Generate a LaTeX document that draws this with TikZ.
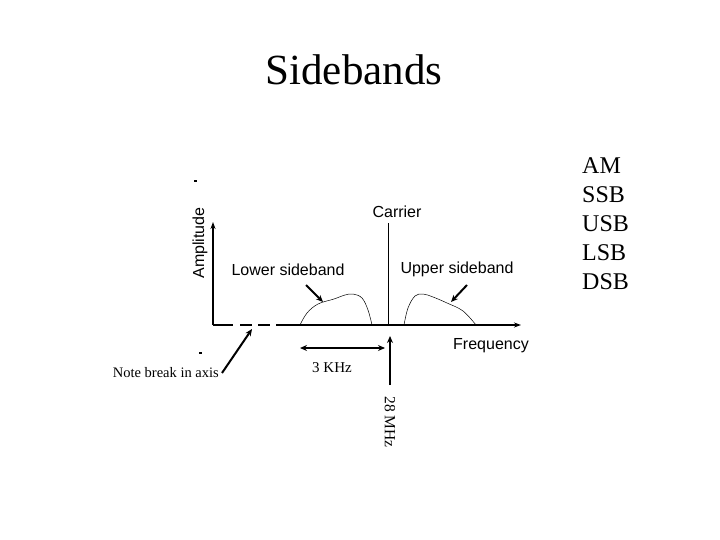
\documentclass[tikz,border=0pt]{standalone}
\usepackage{fontspec}
\setmainfont{Liberation Serif}
\setsansfont{Liberation Sans}
\usetikzlibrary{arrows.meta,positioning}
\definecolor{sbink}{RGB}{0,0,0}
\tikzset{
  sblabel/.style={font=\sffamily\fontsize{16}{19}\selectfont,inner sep=0pt},
  sbnote/.style={font=\fontsize{14.5}{17}\selectfont,inner sep=0pt},
  sbaxis/.style={line width=2pt,draw=sbink},
  sbpoint/.style={-{Stealth[length=7pt,width=6pt]},line width=2pt},
  sbcurve/.style={line width=.5pt}
}
\newcommand{\sbmode}[2]{%
  \node[anchor=west,font=\fontsize{24}{28}\selectfont,inner sep=0pt] (mode#1) at (582,#2) {#1};
}
\begin{document}
\begin{tikzpicture}[x=1pt,y=-1pt]
  \useasboundingbox (0,0) rectangle (720,540);
  % title and list of modes
  \node[font=\fontsize{43}{50}\selectfont] (title) at (354,70) {Sidebands};
  \foreach \mode/\yy in {AM/166,SSB/195,USB/224,LSB/253,DSB/282}
    \sbmode{\mode}{\yy}
  % axes, with the break near the origin
  \coordinate (origin) at (213,325);
  \coordinate (ytop) at (213,222);
  \coordinate (xend) at (521,325);
  \draw[sbaxis,-{Stealth[length=7pt,width=5pt]}] (origin) -- (ytop);
  \draw[sbaxis] (origin) -- (233,325);
  \draw[sbaxis] (240,325) -- (252,325);
  \draw[sbaxis] (258,325) -- (270,325);
  \draw[sbaxis,-{Stealth[length=7pt,width=5pt]}] (276,325) -- (xend);
  \draw[line width=1.2pt] (194,181) -- (197,181);
  \draw[line width=1.2pt] (199,353) -- (202,353);
  % carrier
  \coordinate (cbase) at (388,325);
  \coordinate (ctop) at (388,223);
  \draw[line width=.7pt] (cbase) -- (ctop);
  \node[sblabel] (carrier) at (397,212) {Carrier};
  \node[sblabel,rotate=90] (amp) at (200,243) {Amplitude};
  \node[sblabel] (freq) at (491,346) {Frequency};
  % sidebands
  \draw[sbcurve] plot[smooth,tension=.6] coordinates {(300,325) (307,313) (318,304) (334,299) (345,295) (353,294) (362,298) (368,310) (372,325)};
  \draw[sbcurve] plot[smooth,tension=.6] coordinates {(404,325) (408,308) (415,296) (423,294) (433,297) (447,303) (463,311) (476,325)};
  \node[sblabel] (lsb) at (288,270) {Lower sideband};
  \node[sblabel] (usb) at (457,269) {Upper sideband};
  \coordinate (lsbtail) at (306,285);
  \coordinate (lsbhead) at (323,302);
  \coordinate (usbtail) at (467,285);
  \coordinate (usbhead) at (451,302);
  \draw[sbpoint] (lsbtail) -- (lsbhead);
  \draw[sbpoint] (usbtail) -- (usbhead);
  % bandwidth and frequency marks
  \coordinate (bwleft) at (300,348);
  \coordinate (bwright) at (385,348);
  \draw[line width=2pt,{Stealth[length=7pt,width=6pt]}-{Stealth[length=7pt,width=6pt]}] (bwleft) -- (bwright);
  \node[sbnote,font=\fontsize{15}{18}\selectfont] (bw) at (332,368) {3 KHz};
  \coordinate (cfbase) at (390,385);
  \coordinate (cfhead) at (390,336);
  \draw[sbpoint] (cfbase) -- (cfhead);
  \node[sbnote,font=\fontsize{15.5}{18}\selectfont,rotate=-90] (cf) at (390,422) {28 MHz};
  % break note
  \node[sbnote,anchor=east] (note) at (219,373) {Note break in axis};
  \coordinate (notehead) at (252,329);
  \draw[sbpoint] (note.east) ++(3,0) -- (notehead);
\end{tikzpicture}
\end{document}
